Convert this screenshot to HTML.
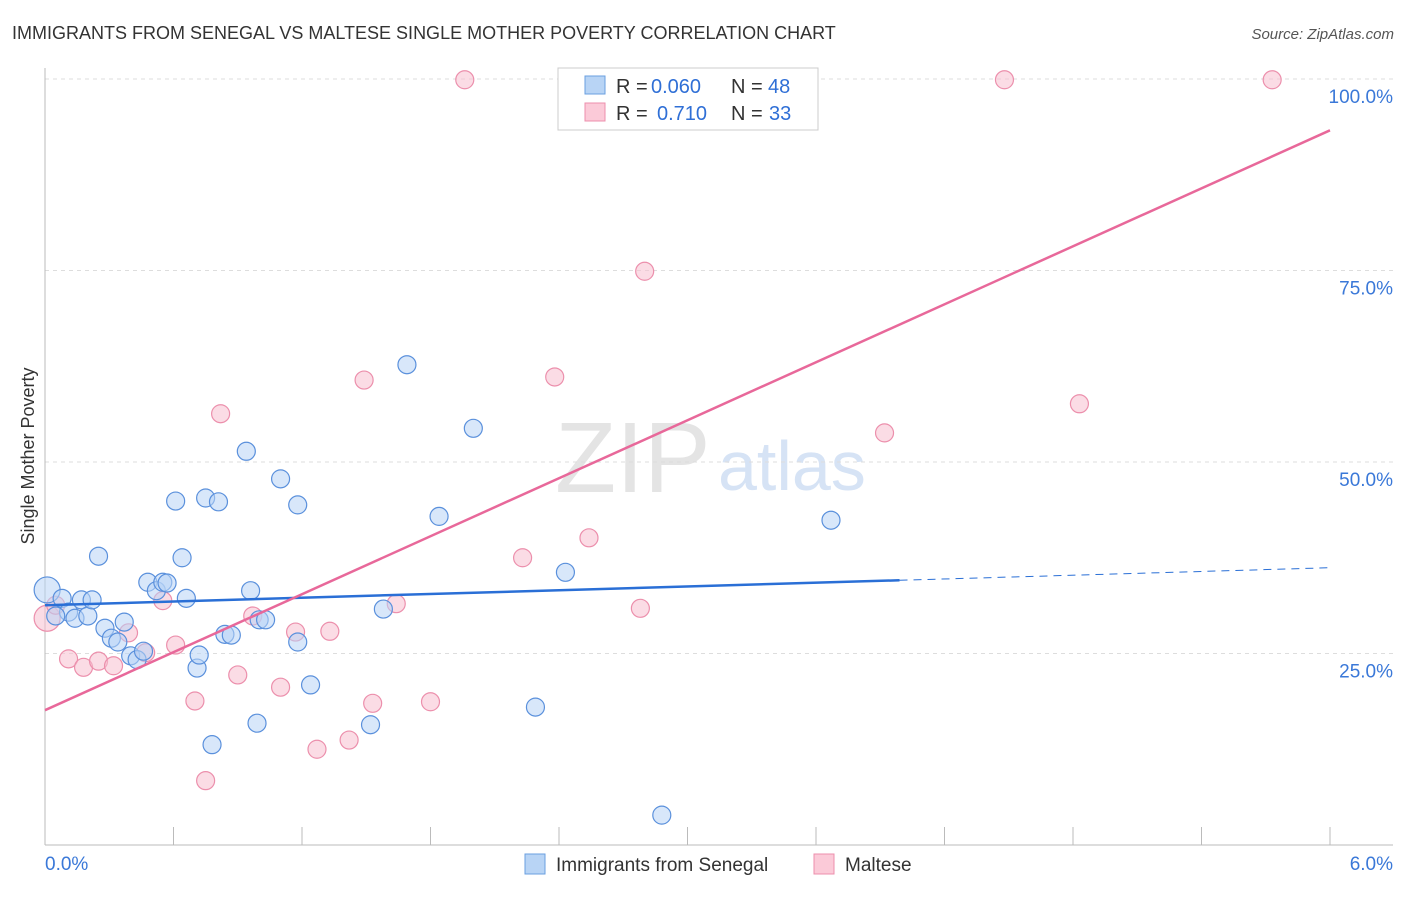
<!DOCTYPE html>
<html><head><meta charset="utf-8"><style>
body{margin:0;background:#fff;font-family:"Liberation Sans",sans-serif;}
svg text{font-family:"Liberation Sans",sans-serif;}
</style></head><body>
<svg id="chart" width="1406" height="892">
<text x="12" y="39" font-size="18" fill="#333">IMMIGRANTS FROM SENEGAL VS MALTESE SINGLE MOTHER POVERTY CORRELATION CHART</text>
<text x="1394" y="39" font-size="15" fill="#555" text-anchor="end" font-style="italic">Source: ZipAtlas.com</text>
<text x="555" y="492" font-size="100" fill="#e4e4e4" font-family="Liberation Serif">ZIP</text>
<text x="718" y="490" font-size="70" fill="#d6e3f5">atlas</text>
<text x="34" y="456" font-size="18" fill="#333" transform="rotate(-90 34 456)" text-anchor="middle">Single Mother Poverty</text>
<g id="grid"></g><g id="pts"></g><g id="lines"></g>
<g>
<rect x="558" y="68" width="260" height="62" fill="#fff" stroke="#ccc"/>
<rect x="585" y="76" width="20" height="18" fill="#b8d4f5" stroke="#6a9fe0"/>
<rect x="585" y="103" width="20" height="18" fill="#fbcad8" stroke="#ec8fac"/>
<text x="616" y="93" font-size="20" fill="#333">R =</text>
<text x="651" y="93" font-size="20" fill="#2f6fd6">0.060</text>
<text x="731" y="93" font-size="20" fill="#333">N =</text>
<text x="768" y="93" font-size="20" fill="#2f6fd6">48</text>
<text x="616" y="120" font-size="20" fill="#333">R =</text>
<text x="657" y="120" font-size="20" fill="#2f6fd6">0.710</text>
<text x="731" y="120" font-size="20" fill="#333">N =</text>
<text x="769" y="120" font-size="20" fill="#2f6fd6">33</text>
</g>
<g>
<rect x="525" y="854" width="20" height="20" fill="#b8d4f5" stroke="#6a9fe0"/>
<text x="556" y="871" font-size="19" fill="#333">Immigrants from Senegal</text>
<rect x="814" y="854" width="20" height="20" fill="#fbcad8" stroke="#ec8fac"/>
<text x="845" y="871" font-size="19" fill="#333">Maltese</text>
</g>
</svg>
<script>
const blueX=[0.01,0.08,0.11,0.14,0.17,0.20,0.22,0.25,0.28,0.31,0.34,0.37,0.40,0.43,0.46,0.48,0.52,0.55,0.57,0.61,0.64,0.66,0.71,0.72,0.75,0.78,0.81,0.84,0.87,0.94,0.96,0.99,1.00,1.03,1.10,1.18,1.18,1.24,1.52,1.58,1.69,1.84,2.00,2.29,2.43,2.88,3.67,0.05];
const blueY=[33.3,32.2,30.4,29.6,32.0,29.9,32.0,37.7,28.3,27.0,26.5,29.1,24.7,24.2,25.3,34.3,33.2,34.3,34.2,44.9,37.5,32.2,23.1,24.8,45.3,13.1,44.8,27.5,27.4,51.4,33.2,15.9,29.4,29.4,47.8,44.4,26.5,20.9,15.7,30.8,62.7,42.9,54.4,18.0,35.6,3.9,42.4,29.9];
const pinkX=[0.01,0.05,0.11,0.18,0.25,0.32,0.39,0.47,0.55,0.61,0.70,0.75,0.82,0.90,0.97,1.10,1.17,1.27,1.33,1.42,1.49,1.53,1.64,1.80,1.96,2.23,2.38,2.54,2.78,2.80,3.92,4.48,4.83,5.73];
const pinkY=[29.6,31.3,24.3,23.2,24.0,23.4,27.7,25.1,31.9,26.1,18.8,8.4,56.3,22.2,29.9,20.6,27.8,12.5,27.9,13.7,60.7,18.5,31.5,18.7,99.9,37.5,61.1,40.1,30.9,74.9,53.8,99.9,57.6,99.9];
const blueTrend=[31.3,36.2], blueSolidEnd=3.99;
const pinkTrend=[17.6,93.3];
const yTicks=[25,50,75,100];
const xTicks=[0,0.6,1.2,1.8,2.4,3.0,3.6,4.2,4.8,5.4,6.0];
const NS='http://www.w3.org/2000/svg';
const sx=v=>45+v/6*1285, sy=v=>845-v/100*766;
function mk(p,t,a){const e=document.createElementNS(NS,t);for(const k in a)e.setAttribute(k,a[k]);p.appendChild(e);return e;}
const grid=document.getElementById('grid');
yTicks.forEach(t=>{
 const l=mk(grid,'line',{x1:45,x2:1393,y1:sy(t),y2:sy(t),stroke:'#ddd','stroke-dasharray':'4,4'});
 
 
 const tx=mk(grid,'text',{x:1393,y:sy(t)+24,'font-size':19,fill:'#3a78d8','text-anchor':'end'});tx.textContent=t.toFixed(1)+'%';
 
 
});
mk(grid,'line',{x1:45,x2:45,y1:68,y2:845,stroke:'#bbb'});
mk(grid,'line',{x1:45,x2:1393,y1:845,y2:845,stroke:'#bbb'});
xTicks.forEach(t=>{const l=mk(grid,'line',{x1:sx(t),x2:sx(t),y1:827,y2:845,stroke:'#bbb'});
 
 });
[[0,'0.0%','start',45],[6,'6.0%','end',1393]].forEach(a=>{const t=mk(grid,'text',{x:a[3],y:870,'font-size':19,fill:'#3a78d8','text-anchor':a[2]});t.textContent=a[1];
 
 });
const pts=document.getElementById('pts');
function draw(X,Y,f,s,n){X.forEach((x,i)=>{const r=(i===0)?13:9;
 const c=mk(pts,'circle',{cx:sx(x),cy:sy(Y[i]),r:r,fill:f,'fill-opacity':0.55,stroke:s,'stroke-width':1.2});
 
 });}
draw(pinkX,pinkY,'#f8c0d0','#ec8fac','maltese-point');
draw(blueX,blueY,'#b8d4f5','#5a90dc','senegal-point');
const ln=document.getElementById('lines');
const by=x=>blueTrend[0]+(blueTrend[1]-blueTrend[0])*x/6;
let l1=mk(ln,'line',{x1:sx(0),y1:sy(by(0)),x2:sx(blueSolidEnd),y2:sy(by(blueSolidEnd)),stroke:'#2a6fd6','stroke-width':2.5});


let l2=mk(ln,'line',{x1:sx(blueSolidEnd),y1:sy(by(blueSolidEnd)),x2:sx(6),y2:sy(by(6)),stroke:'#2a6fd6','stroke-width':1,'stroke-dasharray':'8,6'});


let l3=mk(ln,'line',{x1:sx(0),y1:sy(pinkTrend[0]),x2:sx(6),y2:sy(pinkTrend[1]),stroke:'#e8689a','stroke-width':2.5});


</script>
</body></html>
